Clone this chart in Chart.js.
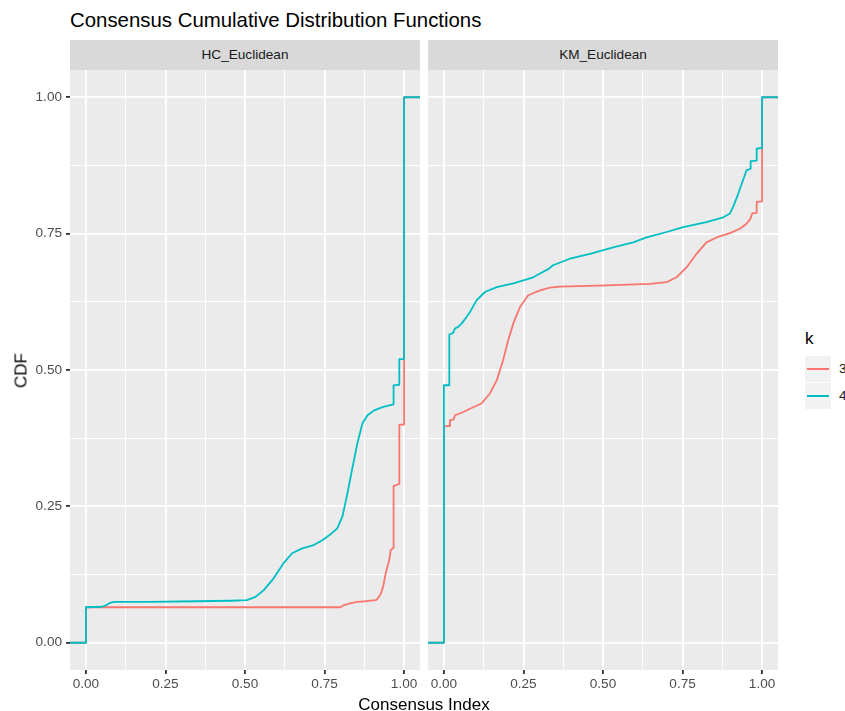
<!DOCTYPE html>
<html>
<head>
<meta charset="utf-8">
<script src="https://cdn.jsdelivr.net/npm/chart.js@4.4.1/dist/chart.umd.min.js"></script>
<style>
  html, body { margin: 0; padding: 0; background: #ffffff; }
  body { width: 845px; height: 711px; position: relative; overflow: hidden;
         font-family: "Liberation Sans", Arial, Helvetica, sans-serif; }
  .abs { position: absolute; white-space: nowrap; }
  .strip { position: absolute; top: 40px; width: 350px; height: 30px; background: #D9D9D9;
           color: #1A1A1A; font-size: 13.6px; line-height: 30px; text-align: center; }
  canvas { position: absolute; }
</style>
</head>
<body>
<div class="abs" style="left:70px; top:10px; font-size:20.4px; line-height:20.4px; color:#000;">Consensus Cumulative Distribution Functions</div>
<div class="strip" style="left:70px;">HC_Euclidean</div>
<div class="strip" style="left:428px;">KM_Euclidean</div>
<canvas id="c1" width="420" height="641" style="left:0px; top:70px;"></canvas>
<canvas id="c2" width="350" height="641" style="left:428px; top:70px;"></canvas>
<div class="abs" style="left:70px; top:695.6px; width:708px; text-align:center; font-size:17px; line-height:17px; color:#000;">Consensus Index</div>
<div class="abs" style="left:-29px; top:362px; width:100px; text-align:center; font-size:17px; line-height:17px; color:#000; transform:rotate(-90deg);">CDF</div>
<!-- legend -->
<div class="abs" style="left:805px; top:329.6px; font-size:17px; line-height:17px; color:#000;">k</div>
<div class="abs" style="left:805px; top:356px; width:26px; height:25.5px; background:#F2F2F2;"></div>
<div class="abs" style="left:805px; top:383px; width:26px; height:25.5px; background:#F2F2F2;"></div>
<div class="abs" style="left:807px; top:368.4px; width:21.5px; height:1.8px; background:#F8766D;"></div>
<div class="abs" style="left:807px; top:395.4px; width:21.5px; height:1.8px; background:#00BFC4;"></div>
<div class="abs" style="left:839px; top:362px; font-size:13.6px; line-height:13.6px; color:#1A1A1A;">3</div>
<div class="abs" style="left:839px; top:389px; font-size:13.6px; line-height:13.6px; color:#1A1A1A;">4</div>

<script>
// ---------------- data ----------------
const seriesNames = ["3", "4"];
const facetNames = ["HC_Euclidean", "KM_Euclidean"];
const tickValues = [0, 0.25, 0.5, 0.75, 1.0];
const tickLabels = ["0.00", "0.25", "0.50", "0.75", "1.00"];

// HC_Euclidean, k = 3
const hc3X = [-0.05, 0, 0, 0.3, 0.6, 0.80, 0.811, 0.83, 0.853, 0.875, 0.895, 0.912, 0.92, 0.927, 0.935, 0.942, 0.948, 0.953, 0.958, 0.967, 0.967, 0.984, 0.985, 1.0, 1.0, 1.05];
const hc3Y = [0, 0, 0.065, 0.065, 0.065, 0.065, 0.069, 0.072, 0.075, 0.076, 0.077, 0.078, 0.083, 0.090, 0.105, 0.127, 0.140, 0.151, 0.170, 0.174, 0.287, 0.291, 0.400, 0.400, 1.0, 1.0];
// HC_Euclidean, k = 4
const hc4X = [-0.05, 0, 0, 0.05, 0.065, 0.075, 0.09, 0.2, 0.35, 0.454, 0.506, 0.533, 0.559, 0.59, 0.622, 0.648, 0.68, 0.716, 0.743, 0.769, 0.79, 0.806, 0.822, 0.837, 0.853, 0.869, 0.885, 0.906, 0.932, 0.966, 0.967, 0.984, 0.985, 1.0, 1.0, 1.05];
const hc4Y = [0, 0, 0.065, 0.066, 0.069, 0.073, 0.075, 0.075, 0.076, 0.077, 0.078, 0.084, 0.0965, 0.118, 0.1465, 0.164, 0.173, 0.179, 0.188, 0.199, 0.2095, 0.231, 0.274, 0.319, 0.365, 0.402, 0.417, 0.426, 0.432, 0.437, 0.472, 0.473, 0.520, 0.520, 1.0, 1.0];
// KM_Euclidean, k = 3
const km3X = [-0.05, 0, 0, 0.017, 0.019, 0.03, 0.035, 0.061, 0.0817, 0.118, 0.1445, 0.166, 0.186, 0.202, 0.218, 0.239, 0.265, 0.302, 0.333, 0.364, 0.511, 0.647, 0.700, 0.731, 0.7625, 0.794, 0.825, 0.857, 0.899, 0.930, 0.951, 0.963, 0.969, 0.981, 0.983, 0.998, 1.0, 1.0, 1.05];
const km3Y = [0, 0, 0.397, 0.397, 0.408, 0.409, 0.417, 0.423, 0.429, 0.4385, 0.457, 0.481, 0.518, 0.5545, 0.585, 0.6155, 0.637, 0.646, 0.651, 0.653, 0.655, 0.658, 0.661, 0.670, 0.688, 0.713, 0.734, 0.743, 0.751, 0.759, 0.768, 0.777, 0.787, 0.788, 0.808, 0.809, 0.809, 1.0, 1.0];
// KM_Euclidean, k = 4
const km4X = [-0.05, 0, 0, 0.017, 0.017, 0.029, 0.0346, 0.045, 0.0555, 0.071, 0.0817, 0.103, 0.129, 0.166, 0.218, 0.281, 0.302, 0.328, 0.343, 0.396, 0.459, 0.532, 0.595, 0.637, 0.700, 0.752, 0.825, 0.878, 0.899, 0.909, 0.925, 0.94, 0.951, 0.963, 0.964, 0.982, 0.983, 0.998, 1.0, 1.0, 1.05];
const km4Y = [0, 0, 0.472, 0.472, 0.565, 0.568, 0.576, 0.579, 0.585, 0.597, 0.606, 0.628, 0.643, 0.652, 0.659, 0.670, 0.677, 0.685, 0.692, 0.704, 0.713, 0.725, 0.734, 0.743, 0.753, 0.762, 0.771, 0.780, 0.787, 0.799, 0.823, 0.848, 0.866, 0.869, 0.883, 0.884, 0.906, 0.907, 0.907, 1.0, 1.0];

// ---------------- chart setup ----------------
Chart.defaults.font.family = '"Liberation Sans", Arial, Helvetica, sans-serif';
const COLORS = ["#F8766D", "#00BFC4"];
const zip = (xs, ys) => xs.map((x, i) => ({ x: x, y: ys[i] }));
const isMajor = v => Math.abs(v * 4 - Math.round(v * 4)) < 1e-6;
const allTicks = [0, 0.125, 0.25, 0.375, 0.5, 0.625, 0.75, 0.875, 1.0];
const labelFor = v => { const i = tickValues.findIndex(t => Math.abs(t - v) < 1e-6); return i >= 0 ? tickLabels[i] : ''; };

const panelBg = {
  id: 'panelBg',
  beforeDraw(chart) {
    const a = chart.chartArea, c = chart.ctx;
    c.save(); c.fillStyle = '#EBEBEB';
    c.fillRect(a.left, a.top, a.right - a.left, a.bottom - a.top);
    c.restore();
  }
};

function gridOpts(drawTicks) {
  return {
    color: '#FFFFFF',
    lineWidth: ctx => (ctx.tick && isMajor(ctx.tick.value)) ? 1.8 : 0.9,
    drawTicks: drawTicks,
    tickLength: 4,
    tickWidth: 1.8,
    tickColor: ctx => (ctx.tick && isMajor(ctx.tick.value)) ? '#333333' : 'rgba(0,0,0,0)'
  };
}

function makeChart(id, d3x, d3y, d4x, d4y, showY, yWidth) {
  return new Chart(document.getElementById(id), {
    type: 'line',
    data: {
      datasets: [
        { label: seriesNames[0], data: zip(d3x, d3y), borderColor: COLORS[0], borderWidth: 1.8, pointRadius: 0, tension: 0, order: 2, borderJoinStyle: 'round' },
        { label: seriesNames[1], data: zip(d4x, d4y), borderColor: COLORS[1], borderWidth: 1.8, pointRadius: 0, tension: 0, order: 1, borderJoinStyle: 'round' }
      ]
    },
    options: {
      responsive: false,
      animation: false,
      devicePixelRatio: 1,
      layout: { padding: 0 },
      plugins: { legend: { display: false }, tooltip: { enabled: false } },
      scales: {
        x: {
          type: 'linear', min: -0.05, max: 1.05,
          afterBuildTicks: s => { s.ticks = allTicks.map(v => ({ value: v })); },
          afterFit: s => { s.height = 41; s.paddingLeft = 0; s.paddingRight = 0; s.paddingTop = 0; s.paddingBottom = 0; },
          border: { display: false },
          grid: gridOpts(true),
          ticks: { autoSkip: false, maxRotation: 0, minRotation: 0, padding: 2, color: '#4D4D4D', font: { size: 13.6 }, callback: v => labelFor(v) }
        },
        y: {
          type: 'linear', min: -0.05, max: 1.05,
          afterBuildTicks: s => { s.ticks = allTicks.map(v => ({ value: v })); },
          afterFit: s => { s.width = yWidth; s.paddingLeft = 0; s.paddingRight = 0; s.paddingTop = 0; s.paddingBottom = 0; },
          border: { display: false },
          grid: gridOpts(showY),
          ticks: { display: showY, autoSkip: false, padding: 4, color: '#4D4D4D', font: { size: 13.6 }, callback: v => labelFor(v) }
        }
      }
    },
    plugins: [panelBg]
  });
}

makeChart('c1', hc3X, hc3Y, hc4X, hc4Y, true, 70);
makeChart('c2', km3X, km3Y, km4X, km4Y, false, 0);
</script>
</body>
</html>
